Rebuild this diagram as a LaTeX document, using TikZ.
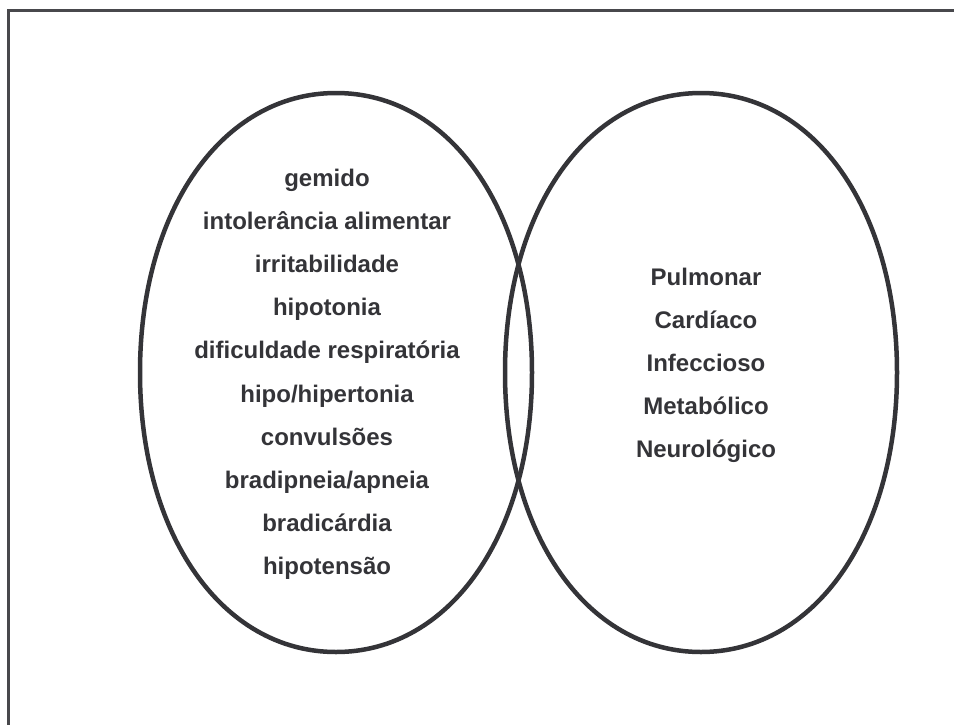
\documentclass[tikz,border=0pt]{standalone}
\usepackage{fontspec}
\setmainfont{Liberation Sans}
\usepackage{tikz}
\usetikzlibrary{positioning}
\definecolor{ink}{RGB}{52,52,56}

\begin{document}
\begin{tikzpicture}[x=1pt,y=-1pt,node distance=43.2pt,
        item/.style={text=ink,font=\fontsize{24}{28}\selectfont\bfseries,inner sep=0pt,text height=18pt,text depth=5pt},
        oval/.style={draw=ink,line width=4.5pt},
        frame/.style={draw=ink!90,line width=3pt}]
                \useasboundingbox (0,0) rectangle (954,724);
                \clip (0,0) rectangle (954,724);
                \draw   [frame] (970,10.5) -| (8.5,740);

                % the two ovals
                \foreach \cx in {336,701}
                \draw   [oval] (\cx,93) .. controls +(114,0) and +(0,-162) .. (\cx+196,372.5)
                        .. controls +(0,162) and +(114,0) .. (\cx,652)
                        .. controls +(-114,0) and +(0,162) .. (\cx-196,372.5)
                        .. controls +(0,-162) and +(-114,0) .. (\cx,93) -- cycle;

                % signs
                \node   [item]      at (327,179.5)      (s1)  {gemido};
                \node   [item]      [below of=s1]       (s2)  {intolerância alimentar};
                \node   [item]      [below of=s2]       (s3)  {irritabilidade};
                \node   [item]      [below of=s3]       (s4)  {hipotonia};
                \node   [item]      [below of=s4]       (s5)  {dificuldade respiratória};
                \node   [item]      [below of=s5]       (s6)  {hipo/hipertonia};
                \node   [item]      [below of=s6]       (s7)  {convulsões};
                \node   [item]      [below of=s7]       (s8)  {bradipneia/apneia};
                \node   [item]      [below of=s8]       (s9)  {bradicárdia};
                \node   [item]      [below of=s9]       (s10) {hipotensão};

                % causes
                \node   [item]      at (706,278.5)      (c1)  {Pulmonar};
                \node   [item]      [below of=c1]       (c2)  {Cardíaco};
                \node   [item]      [below of=c2]       (c3)  {Infeccioso};
                \node   [item]      [below of=c3]       (c4)  {Metabólico};
                \node   [item]      [below of=c4]       (c5)  {Neurológico};
            \end{tikzpicture}
\end{document}
